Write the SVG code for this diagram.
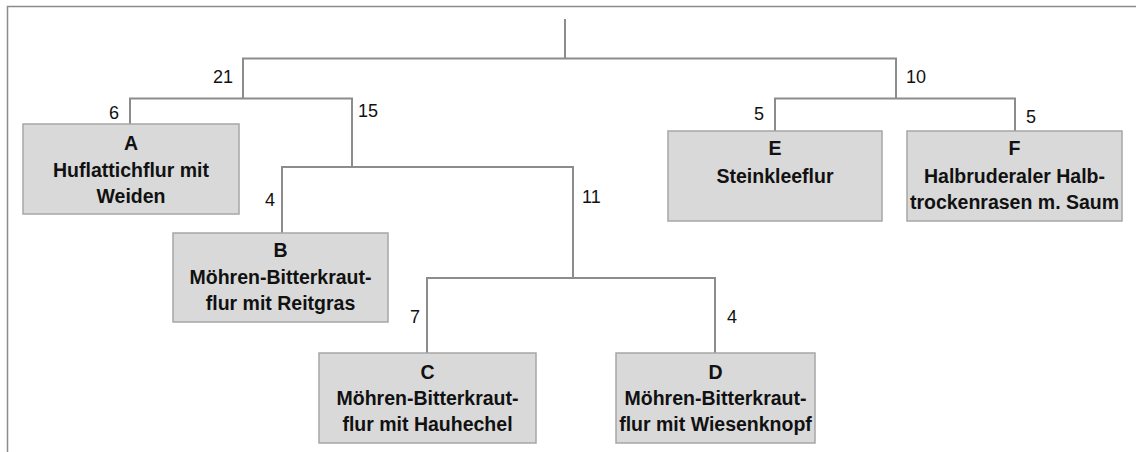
<svg xmlns="http://www.w3.org/2000/svg" width="1136" height="452" viewBox="0 0 1136 452">
<style>
.frame{fill:none;stroke:#8c8c8c;stroke-width:1.5}
.edge{fill:none;stroke:#8c8c8c;stroke-width:2}
.box{fill:#d9d9d9;stroke:#a6a6a6;stroke-width:1.5}
.lbl{font-family:"Liberation Sans",Arial,sans-serif;font-weight:bold;font-size:19.5px;fill:#111111;text-anchor:middle}
.num{font-family:"Liberation Sans",Arial,sans-serif;font-size:18px;fill:#111111}
</style>
<rect width="1136" height="452" fill="#ffffff"/>
<path class="frame" d="M7.5,452 V6.5 H1136"/>
<g id="connectors">
<path class="edge" d="M565,19 V58.5"/>
<path class="edge" d="M243,98.5 V58.5 H896 V98.5"/>
<path class="edge" d="M130,124 V98.5 H352 V167"/>
<path class="edge" d="M282,233 V167 H573 V278"/>
<path class="edge" d="M427,353 V278 H715 V353"/>
<path class="edge" d="M775,131 V98.5 H1015 V131"/>
<text class="num" x="233" y="83" text-anchor="end">21</text>
<text class="num" x="906" y="83">10</text>
<text class="num" x="119" y="119" text-anchor="end">6</text>
<text class="num" x="358" y="117">15</text>
<text class="num" x="275" y="206" text-anchor="end">4</text>
<text class="num" x="582" y="203">11</text>
<text class="num" x="420" y="323" text-anchor="end">7</text>
<text class="num" x="727" y="323">4</text>
<text class="num" x="764" y="120" text-anchor="end">5</text>
<text class="num" x="1026" y="123">5</text>
</g>
<g id="node-A">
<rect class="box" x="23" y="124" width="216" height="90"/>
<text class="lbl" x="131" y="150">A</text>
<text class="lbl" x="131" y="176.5">Huflattichflur mit</text>
<text class="lbl" x="131" y="203">Weiden</text>
</g>
<g id="node-B">
<rect class="box" x="173" y="233" width="215" height="89"/>
<text class="lbl" x="280.5" y="257">B</text>
<text class="lbl" x="280.5" y="283.5">Möhren-Bitterkraut-</text>
<text class="lbl" x="280.5" y="309.5">flur mit Reitgras</text>
</g>
<g id="node-C">
<rect class="box" x="319" y="353" width="217" height="90"/>
<text class="lbl" x="427.5" y="379">C</text>
<text class="lbl" x="427.5" y="405">Möhren-Bitterkraut-</text>
<text class="lbl" x="427.5" y="431">flur mit Hauhechel</text>
</g>
<g id="node-D">
<rect class="box" x="616" y="353" width="199" height="90"/>
<text class="lbl" x="715.5" y="379">D</text>
<text class="lbl" x="715.5" y="405">Möhren-Bitterkraut-</text>
<text class="lbl" x="715.5" y="431">flur mit Wiesenknopf</text>
</g>
<g id="node-E">
<rect class="box" x="668" y="131" width="214" height="90"/>
<text class="lbl" x="775" y="155">E</text>
<text class="lbl" x="775" y="183">Steinkleeflur</text>
</g>
<g id="node-F">
<rect class="box" x="907" y="131" width="215" height="90"/>
<text class="lbl" x="1014.5" y="155">F</text>
<text class="lbl" x="1014.5" y="183">Halbruderaler Halb-</text>
<text class="lbl" x="1014.5" y="209">trockenrasen m. Saum</text>
</g>
</svg>
